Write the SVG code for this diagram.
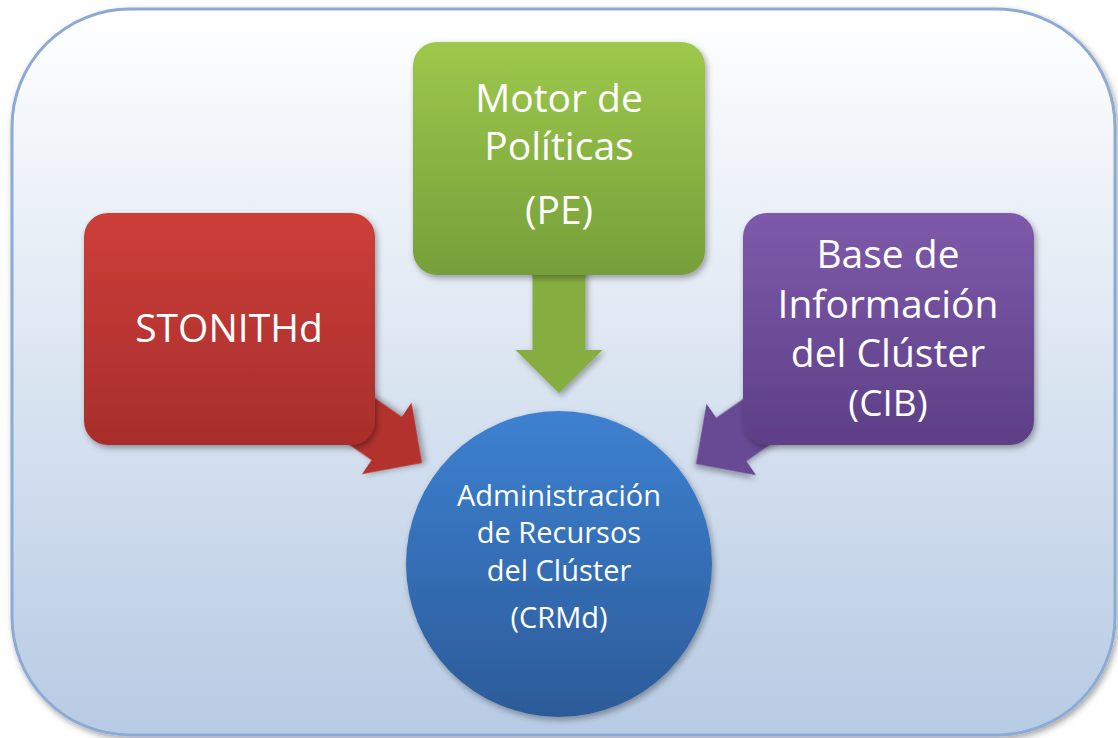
<svg xmlns="http://www.w3.org/2000/svg" width="1118" height="738" viewBox="0 0 1118 738">
<style>
.t{font-family:"Open Sans","Noto Sans","Liberation Sans",sans-serif;fill:#ffffff;text-anchor:middle}
.big{font-size:39px}
.mid{font-size:37px}
.small{font-size:29px}
</style>
<defs>
<linearGradient id="bg" x1="0" y1="0" x2="0" y2="1">
<stop offset="0" stop-color="#ffffff"/>
<stop offset="1" stop-color="#b7cbe4"/>
</linearGradient>
<linearGradient id="gRed" x1="0" y1="0" x2="0" y2="1">
<stop offset="0" stop-color="#cd3e39"/>
<stop offset="1" stop-color="#a72e2b"/>
</linearGradient>
<linearGradient id="gGreen" x1="0" y1="0" x2="0" y2="1">
<stop offset="0" stop-color="#9dc84b"/>
<stop offset="1" stop-color="#769f3a"/>
</linearGradient>
<linearGradient id="gPurple" x1="0" y1="0" x2="0" y2="1">
<stop offset="0" stop-color="#7e5aaa"/>
<stop offset="1" stop-color="#5d3f86"/>
</linearGradient>
<linearGradient id="gBlue" x1="0" y1="0" x2="0" y2="1">
<stop offset="0" stop-color="#3d81d1"/>
<stop offset="1" stop-color="#2c5b99"/>
</linearGradient>
<filter id="sh" x="-20%" y="-20%" width="140%" height="140%">
<feDropShadow dx="2" dy="3" stdDeviation="3" flood-color="#000" flood-opacity="0.35"/>
</filter>
<path id="arrow" d="M0,0 L-43.5,-43 L-26.5,-43 L-26.5,-130 L26.5,-130 L26.5,-43 L43.5,-43 Z"/>
</defs>
<g id="background">
<rect x="12" y="9" width="1103" height="726" rx="118" ry="118" fill="url(#bg)" stroke="#8caad4" stroke-width="3" filter="url(#sh)"/>
</g>
<g id="connectors">
<use href="#arrow" transform="translate(559,393)" fill="#86ad40" filter="url(#sh)"/>
<use href="#arrow" transform="translate(422,463) rotate(-55.2)" fill="#b3322f" filter="url(#sh)"/>
<use href="#arrow" transform="translate(696,464) rotate(55.2)" fill="#684a94" filter="url(#sh)"/>
</g>
<g id="node-stonithd">
<rect x="84" y="213" width="291" height="232" rx="24" ry="24" fill="url(#gRed)" filter="url(#sh)"/>
<text class="t big" x="229" y="342">STONITHd</text>
</g>
<g id="node-pe">
<rect x="413" y="42" width="292" height="233" rx="24" ry="24" fill="url(#gGreen)" filter="url(#sh)"/>
<text class="t big" x="559" y="112">Motor de</text>
<text class="t big" x="559" y="160">Políticas</text>
<text class="t big" x="559" y="224">(PE)</text>
</g>
<g id="node-cib">
<rect x="743" y="213" width="291" height="232" rx="24" ry="24" fill="url(#gPurple)" filter="url(#sh)"/>
<text class="t big" x="888" y="268">Base de</text>
<text class="t big" x="888" y="318">Información</text>
<text class="t big" x="888" y="367">del Clúster</text>
<text class="t mid" x="888" y="416">(CIB)</text>
</g>
<g id="node-crmd">
<circle cx="559" cy="564" r="153" fill="url(#gBlue)" filter="url(#sh)"/>
<text class="t small" x="559" y="506">Administración</text>
<text class="t small" x="559" y="543">de Recursos</text>
<text class="t small" x="559" y="581">del Clúster</text>
<text class="t small" x="559" y="628">(CRMd)</text>
</g>
</svg>
